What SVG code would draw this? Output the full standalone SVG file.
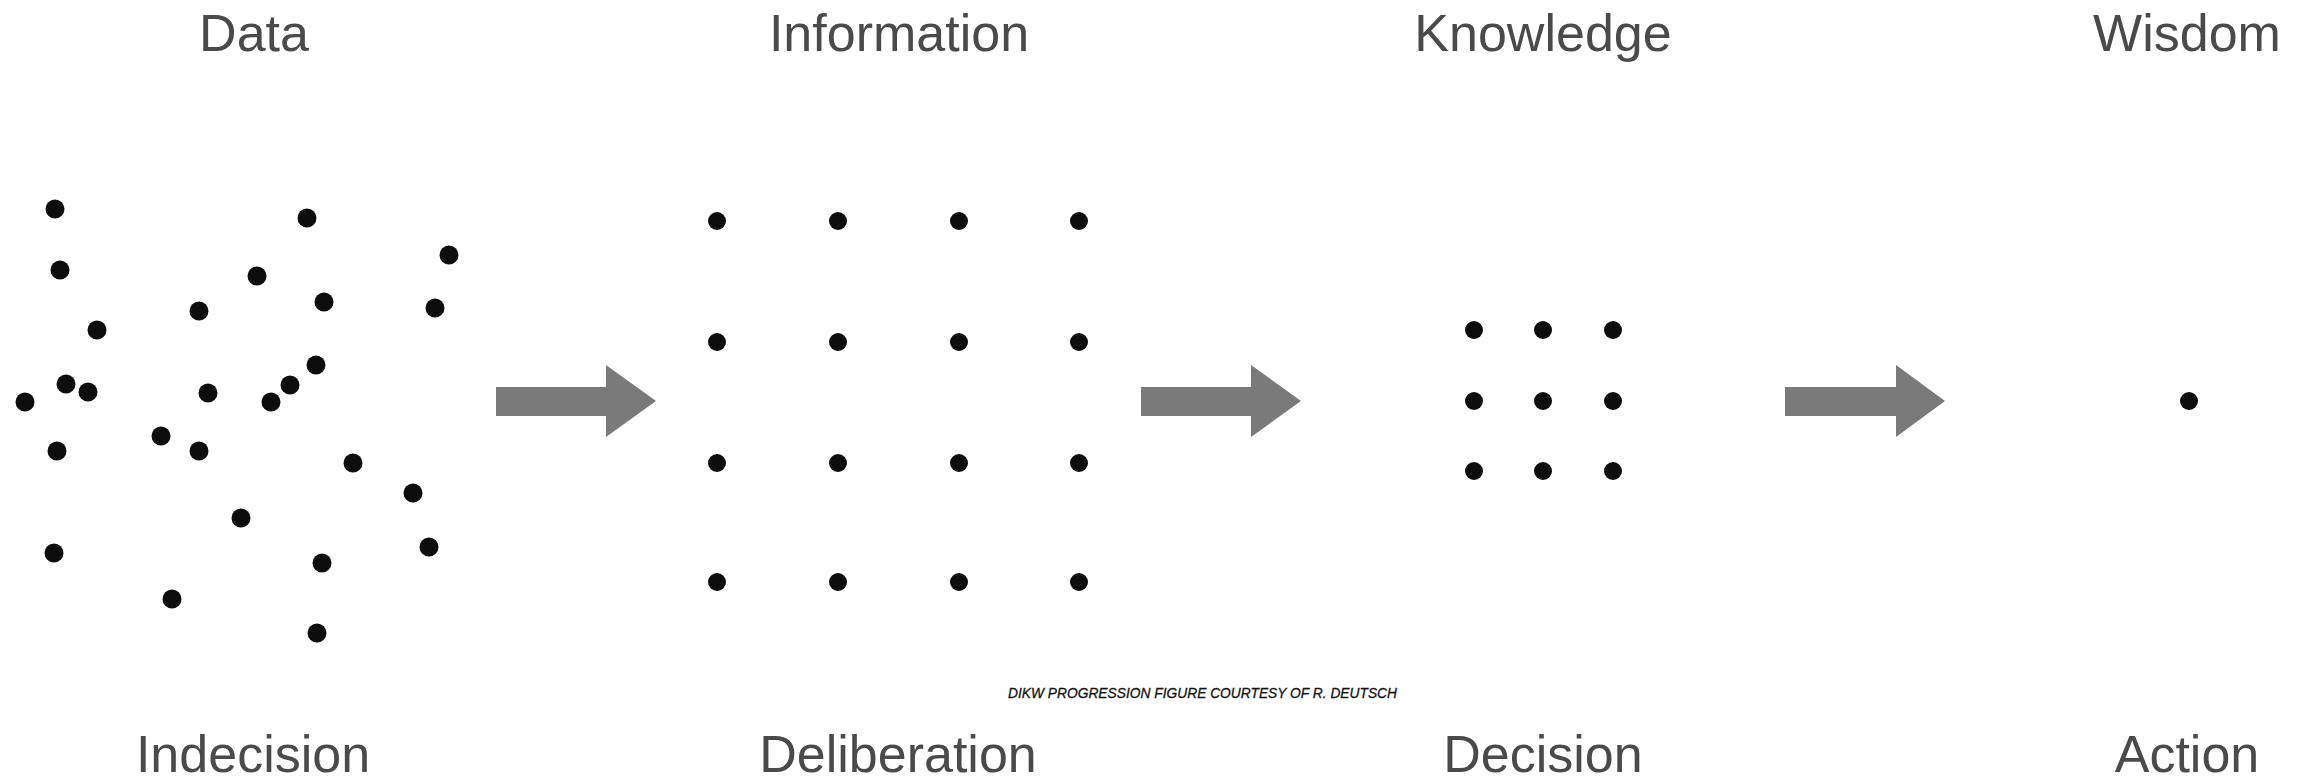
<svg xmlns="http://www.w3.org/2000/svg" width="2305" height="780" viewBox="0 0 2305 780">
  <style>
    .title { font-family: "Liberation Sans", Arial, sans-serif; font-size: 52px; fill: #4a4a4a; text-anchor: middle; }
    .dot { fill: #0d0d0d; }
    .arrow { fill: #7a7a7a; }
    .credit { font-family: "Liberation Sans", Arial, sans-serif; font-size: 15px; font-style: italic; fill: #111111; stroke: #111111; stroke-width: 0.3px; }
  </style>
  <rect x="0" y="0" width="2305" height="780" fill="#ffffff"/>

  <g id="node-data">
    <text class="title" x="254" y="51">Data</text>
    <g class="dot">
      <circle cx="55" cy="209" r="9.5"/>
      <circle cx="307" cy="218" r="9.5"/>
      <circle cx="60" cy="270" r="9.5"/>
      <circle cx="257" cy="276" r="9.5"/>
      <circle cx="449" cy="255" r="9.5"/>
      <circle cx="199" cy="311" r="9.5"/>
      <circle cx="324" cy="302" r="9.5"/>
      <circle cx="435" cy="308" r="9.5"/>
      <circle cx="97" cy="330" r="9.5"/>
      <circle cx="316" cy="365" r="9.5"/>
      <circle cx="66" cy="384" r="9.5"/>
      <circle cx="88" cy="392" r="9.5"/>
      <circle cx="25" cy="402" r="9.5"/>
      <circle cx="208" cy="393" r="9.5"/>
      <circle cx="290" cy="385" r="9.5"/>
      <circle cx="271" cy="402" r="9.5"/>
      <circle cx="57" cy="451" r="9.5"/>
      <circle cx="161" cy="436" r="9.5"/>
      <circle cx="199" cy="451" r="9.5"/>
      <circle cx="353" cy="463" r="9.5"/>
      <circle cx="413" cy="493" r="9.5"/>
      <circle cx="241" cy="518" r="9.5"/>
      <circle cx="54" cy="553" r="9.5"/>
      <circle cx="429" cy="547" r="9.5"/>
      <circle cx="322" cy="563" r="9.5"/>
      <circle cx="172" cy="599" r="9.5"/>
      <circle cx="317" cy="633" r="9.5"/>
    </g>
    <text class="title" x="253" y="772">Indecision</text>
  </g>

  <g id="node-information">
    <text class="title" x="899" y="51">Information</text>
    <g class="dot">
      <circle cx="717" cy="221" r="9"/><circle cx="838" cy="221" r="9"/><circle cx="959" cy="221" r="9"/><circle cx="1079" cy="221" r="9"/>
      <circle cx="717" cy="342" r="9"/><circle cx="838" cy="342" r="9"/><circle cx="959" cy="342" r="9"/><circle cx="1079" cy="342" r="9"/>
      <circle cx="717" cy="463" r="9"/><circle cx="838" cy="463" r="9"/><circle cx="959" cy="463" r="9"/><circle cx="1079" cy="463" r="9"/>
      <circle cx="717" cy="582" r="9"/><circle cx="838" cy="582" r="9"/><circle cx="959" cy="582" r="9"/><circle cx="1079" cy="582" r="9"/>
    </g>
    <text class="title" x="898" y="772">Deliberation</text>
  </g>

  <g id="node-knowledge">
    <text class="title" x="1543" y="51">Knowledge</text>
    <g class="dot">
      <circle cx="1474" cy="330" r="9"/><circle cx="1543" cy="330" r="9"/><circle cx="1613" cy="330" r="9"/>
      <circle cx="1474" cy="401" r="9"/><circle cx="1543" cy="401" r="9"/><circle cx="1613" cy="401" r="9"/>
      <circle cx="1474" cy="471" r="9"/><circle cx="1543" cy="471" r="9"/><circle cx="1613" cy="471" r="9"/>
    </g>
    <text class="title" x="1543" y="772">Decision</text>
  </g>

  <g id="node-wisdom">
    <text class="title" x="2187" y="51">Wisdom</text>
    <circle class="dot" cx="2189" cy="401" r="9"/>
    <text class="title" x="2187" y="772">Action</text>
  </g>

  <g id="connectors">
    <polygon class="arrow" points="496,387 606,387 606,365 656,401 606,437 606,416 496,416"/>
    <polygon class="arrow" points="1141,387 1251,387 1251,365 1301,401 1251,437 1251,416 1141,416"/>
    <polygon class="arrow" points="1785,387 1896,387 1896,365 1945,401 1896,437 1896,416 1785,416"/>
  </g>

  <text id="credit" class="credit" x="1008" y="698" textLength="389" lengthAdjust="spacingAndGlyphs">DIKW PROGRESSION FIGURE COURTESY OF R. DEUTSCH</text>
</svg>
